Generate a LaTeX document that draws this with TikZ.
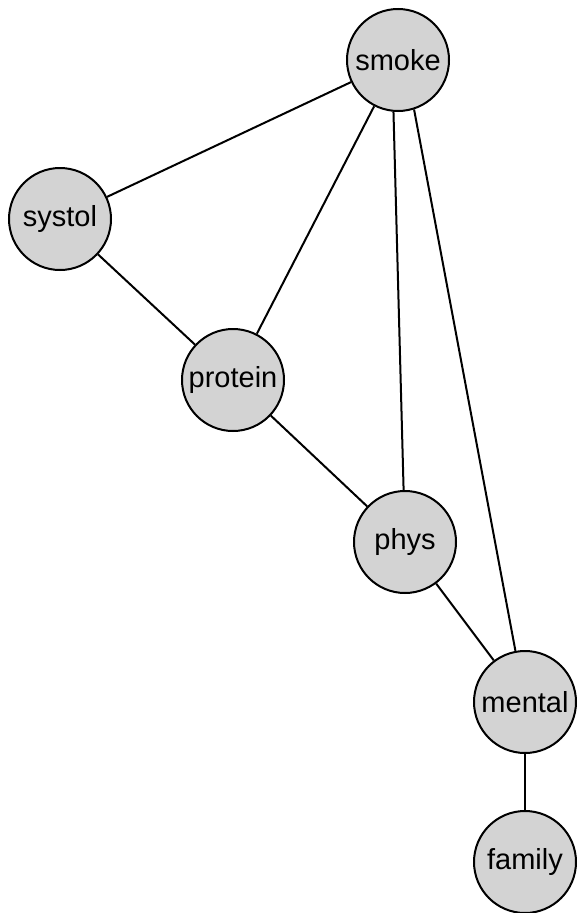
\documentclass[tikz,border=0pt]{standalone}
\usepackage{fontspec}
\setmainfont{Liberation Sans}
\begin{document}
\begin{tikzpicture}[x=1pt,y=-1pt,
  var/.style={circle,draw=black,fill={rgb,255:red,211;green,211;blue,211},line width=2pt,
    minimum size=102pt,inner sep=0pt,font=\fontsize{29}{32}\selectfont},
  link/.style={line width=2pt}]
\useasboundingbox (0,0) rectangle (576,913);
\node[var] (smoke)   at (398,60)  {smoke};
\node[var] (systol)  at (60,219)  {systol};
\node[var] (protein) at (233,380) {protein};
\node[var] (phys)    at (405,542) {phys};
\node[var] (mental)  at (525,702) {mental};
\node[var] (family)  at (525,862) {family};
\draw[link] (smoke) -- (systol);
\draw[link] (smoke) -- (protein);
\draw[link] (smoke.265) -- (phys);
\draw[link] (smoke.288) -- (mental);
\draw[link] (systol) -- (protein);
\draw[link] (protein) -- (phys);
\draw[link] (phys) -- (mental);
\draw[link] (mental) -- (family);
\end{tikzpicture}
\end{document}
